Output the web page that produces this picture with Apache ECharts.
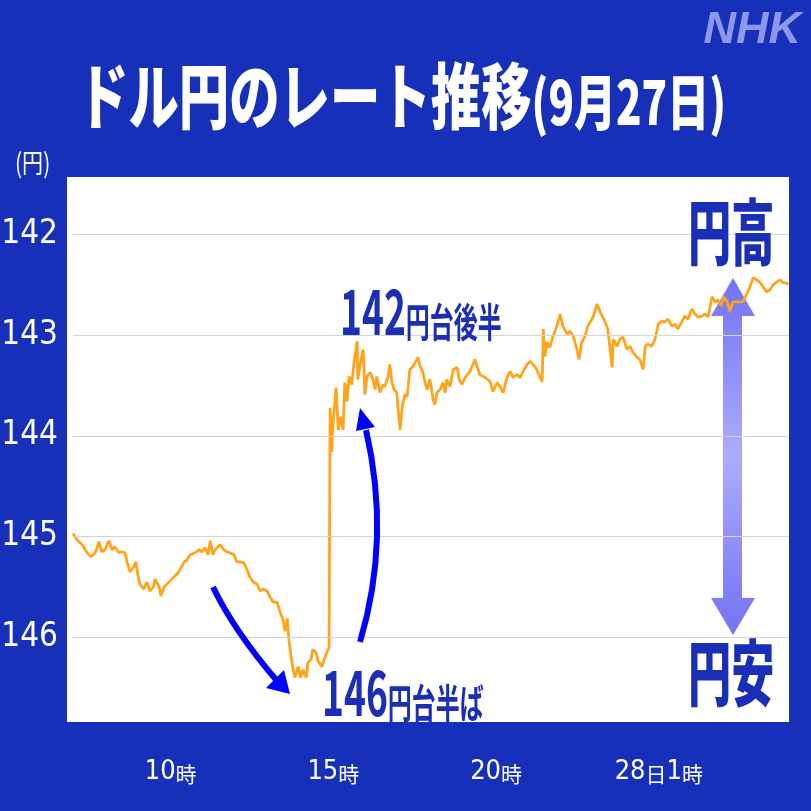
<!DOCTYPE html>
<html><head><meta charset="utf-8">
<script src="https://cdn.jsdelivr.net/npm/echarts@6/dist/echarts.min.js"></script>
<style>html,body{margin:0;padding:0;background:#1730b9}#c{width:811px;height:811px}</style>
</head><body><div id="c"></div>
<script>
// ---- data ----
const times = [
'27 07:00','27 07:07','27 07:17','27 07:26','27 07:33','27 07:41','27 07:48','27 07:53','27 07:59','27 08:06',
'27 08:12','27 08:17','27 08:25','27 08:30','27 08:36','27 08:40','27 08:45','27 08:52','27 08:56','27 09:00',
'27 09:03','27 09:11','27 09:16','27 09:22','27 09:29','27 09:31','27 09:39','27 09:42','27 09:48','27 09:53',
'27 09:59','27 10:06','27 10:12','27 10:17','27 10:25','27 10:30','27 10:36','27 10:45','27 10:52','27 10:58',
'27 11:03','27 11:09','27 11:13','27 11:18','27 11:22','27 11:31','27 11:38','27 11:44','27 11:49','27 11:57',
'27 12:02','27 12:08','27 12:15','27 12:21','27 12:26','27 12:32','27 12:39','27 12:45','27 12:50','27 12:58',
'27 13:03','27 13:09','27 13:16','27 13:22','27 13:27','27 13:31','27 13:35','27 13:38','27 13:42','27 13:46',
'27 13:49','27 13:55','27 14:00','27 14:04','27 14:10','27 14:13','27 14:19','27 14:22','27 14:28','27 14:32',
'27 14:39','27 14:43','27 14:48','27 14:52','27 14:54','27 14:57','27 14:59','27 15:05','27 15:09','27 15:14',
'27 15:18','27 15:21','27 15:25','27 15:29','27 15:34','27 15:38','27 15:44','27 15:45','27 15:51','27 15:55',
'27 15:58','27 16:02','27 16:08','27 16:13','27 16:17','27 16:20','27 16:26','27 16:32','27 16:35','27 16:41',
'27 16:44','27 16:48','27 16:52','27 16:57','27 16:59','27 17:03','27 17:07','27 17:12','27 17:16','27 17:21',
'27 17:27','27 17:31','27 17:36','27 17:40','27 17:45','27 17:49','27 17:53','27 17:58','27 18:04','27 18:07',
'27 18:11','27 18:17','27 18:22','27 18:26','27 18:29','27 18:35','27 18:41','27 18:48','27 18:52','27 18:57',
'27 19:03','27 19:12','27 19:21','27 19:25','27 19:30','27 19:40','27 19:49','27 19:54','27 20:02','27 20:07',
'27 20:13','27 20:20','27 20:26','27 20:31','27 20:39','27 20:44','27 20:50','27 20:57','27 21:03','27 21:08',
'27 21:15','27 21:21','27 21:25','27 21:27','27 21:30','27 21:34','27 21:39','27 21:45','27 21:52','27 21:58',
'27 22:03','27 22:11','27 22:16','27 22:22','27 22:29','27 22:33','27 22:38','27 22:44','27 22:49','27 22:57',
'27 23:02','27 23:06','27 23:12','27 23:21','27 23:26','27 23:34','27 23:36','27 23:43','27 23:48','27 23:54',
'28 00:01','28 00:07','28 00:12','28 00:20','28 00:25','28 00:31','28 00:35','28 00:40','28 00:47','28 00:53',
'28 00:59','28 01:06','28 01:11','28 01:17','28 01:24','28 01:30','28 01:35','28 01:43','28 01:48','28 01:54',
'28 02:01','28 02:07','28 02:12','28 02:20','28 02:25','28 02:31','28 02:38','28 02:44','28 02:49','28 02:55',
'28 03:00','28 03:06','28 03:11','28 03:17','28 03:24','28 03:30','28 03:35','28 03:43','28 03:48','28 03:54',
'28 04:01','28 04:07','28 04:12','28 04:19','28 04:25','28 04:31','28 04:38','28 04:43','28 04:49','28 04:56','28 04:58'
];
const rates = [
144.97,145.03,145.08,145.16,145.20,145.16,145.05,145.15,145.13,145.04,
145.13,145.10,145.16,145.15,145.16,145.26,145.35,145.30,145.25,145.39,
145.47,145.52,145.45,145.54,145.49,145.42,145.50,145.59,145.50,145.47,
145.44,145.40,145.37,145.33,145.25,145.23,145.18,145.16,145.13,145.15,
145.11,145.18,145.04,145.18,145.13,145.08,145.13,145.15,145.16,145.18,
145.25,145.25,145.26,145.33,145.40,145.45,145.47,145.54,145.52,145.54,
145.60,145.65,145.65,145.75,145.82,145.94,145.81,146.02,146.19,146.32,
146.40,146.29,146.40,146.32,146.40,146.25,146.22,146.12,146.15,146.24,
146.29,146.22,146.15,146.10,143.72,144.16,143.91,143.52,143.94,143.81,
143.94,143.47,143.66,143.41,143.49,143.27,143.06,143.44,143.24,143.14,
143.59,143.41,143.37,143.44,143.54,143.41,143.57,143.49,143.51,143.41,
143.29,143.47,143.54,143.57,143.71,143.94,143.71,143.59,143.61,143.34,
143.31,143.27,143.22,143.31,143.37,143.47,143.54,143.44,143.64,143.69,
143.57,143.54,143.47,143.57,143.44,143.51,143.34,143.32,143.44,143.49,
143.42,143.36,143.24,143.31,143.39,143.42,143.46,143.56,143.47,143.51,
143.57,143.42,143.36,143.42,143.39,143.42,143.36,143.29,143.26,143.29,
143.34,143.42,143.46,142.94,143.21,143.07,143.12,143.01,142.91,142.79,
142.91,142.99,142.96,143.01,143.14,143.24,143.07,143.01,142.91,142.84,
142.77,142.69,142.77,142.87,142.94,143.32,143.04,143.11,143.04,143.02,
143.14,143.11,143.17,143.22,143.24,143.34,143.11,143.09,143.11,143.04,
142.89,142.86,142.87,142.84,142.91,142.89,142.94,142.86,142.81,142.84,
142.74,142.79,142.82,142.81,142.79,142.82,142.62,142.67,142.65,142.71,
142.62,142.67,142.76,142.67,142.67,142.67,142.67,142.58,142.52,142.43,
142.45,142.48,142.52,142.57,142.55,142.50,142.47,142.45,142.48,142.48,142.50
];
const yTicks = [142, 143, 144, 145, 146];
const xTicks = ['27 10:00', '27 15:00', '27 20:00', '28 01:00'];
const xTickLabels = ['10時', '15時', '20時', '28日1時'];
const xRange = ['27 07:00', '28 05:00'];
const yRange = [141.43, 146.84];

// ---- helpers ----
// hours elapsed since 00:00 on the 27th
function toHours(s) {
  const [d, hm] = s.split(' ');
  const [h, m] = hm.split(':').map(Number);
  return (+d - 27) * 24 + h + m / 60;
}
const BG = '#1730b9';
const INK = '#1a2fb6';
const CJK = "'Noto Sans CJK JP', 'Noto Sans', sans-serif";
const NARROW = "'Liberation Sans Narrow', 'DejaVu Sans Condensed', sans-serif";
const xTickHours = xTicks.map(toHours);

const chart = echarts.init(document.getElementById('c'), null, { renderer: 'canvas' });

const option = {
  animation: false,
  backgroundColor: BG,
  grid: { left: 73, right: 22, top: 177, bottom: 89, containLabel: false, outerBoundsMode: 'none' },
  xAxis: {
    type: 'value',
    min: toHours(xRange[0]),
    max: toHours(xRange[1]),
    axisLine: { show: false },
    axisTick: { show: false },
    splitLine: { show: false },
    axisLabel: {
      customValues: xTickHours,
      margin: 33,
      hideOverlap: false,
      formatter: function (v) {
        let i = -1;
        xTickHours.forEach((t, k) => { if (Math.abs(t - v) < 1e-6) i = k; });
        const lab = i >= 0 ? xTickLabels[i] : '';
        return (lab.match(/\d+|\D+/g) || []).map(t => /\d/.test(t) ? '{n|' + t + '}' : '{k|' + t + '}').join('');
      },
      rich: {
        n: { color: '#fff', fontFamily: NARROW, fontSize: 27, verticalAlign: 'bottom', lineHeight: 30 },
        k: { color: '#fff', fontFamily: CJK, fontSize: 21, verticalAlign: 'bottom', lineHeight: 30 }
      }
    }
  },
  yAxis: {
    type: 'value',
    inverse: true,
    min: yRange[0],
    max: yRange[1],
    axisLine: { show: false },
    axisTick: { show: false },
    splitLine: { show: false },
    axisLabel: {
      customValues: yTicks,
      color: '#fff',
      fontFamily: NARROW,
      fontSize: 33,
      margin: 15,
      formatter: v => String(v)
    }
  },
  series: [{
    type: 'line',
    z: 3,
    showSymbol: false,
    symbol: 'none',
    lineStyle: { color: '#ffa41b', width: 2.8 },
    data: times.map((t, i) => [toHours(t), rates[i]]),
    markLine: {
      silent: true,
      symbol: 'none',
      label: { show: false },
      lineStyle: { color: '#d4d4d4', width: 1, type: 'solid' },
      data: yTicks.map(v => ({ yAxis: v }))
    }
  }],
  graphic: [
    { type: 'rect', z: -10, shape: { x: 67, y: 177, width: 722, height: 545 }, style: { fill: '#ffffff' } },
    { type: 'text', z: 10, x: 78, y: 94, scaleX: 0.70,
      style: { text: '{a|ドル円のレート推移}{b|(9月27日)}', verticalAlign: 'middle',
        rich: {
          a: { fontSize: 72, fontWeight: 900, fontFamily: CJK, fill: '#fff', lineHeight: 76, verticalAlign: 'bottom' },
          b: { fontSize: 60, fontWeight: 900, fontFamily: CJK, fill: '#fff', lineHeight: 76, verticalAlign: 'bottom' }
        } } },
    { type: 'text', z: 10, x: 801, y: 31,
      style: { text: 'NHK', align: 'right', verticalAlign: 'middle', fill: '#8e97ea',
        font: 'italic bold 45px "Liberation Sans", sans-serif' } },
    { type: 'text', z: 10, x: 15, y: 163, scaleX: 0.78,
      style: { text: '(円)', verticalAlign: 'middle', fill: '#fff', fontSize: 27, fontFamily: CJK } },
    { type: 'polygon', z: -5,
      shape: { points: [[733, 278], [755, 316], [742, 316], [742, 598], [755, 598], [733, 635], [711, 598], [723, 598], [723, 316], [711, 316]] },
      style: { fill: { type: 'linear', x: 0, y: 0, x2: 0, y2: 1, colorStops: [
        { offset: 0, color: '#7373f3' }, { offset: 0.5, color: '#acacfd' }, { offset: 1, color: '#7373f3' }] } } },
    { type: 'text', z: 10, x: 688, y: 232, scaleX: 0.6,
      style: { text: '円高', verticalAlign: 'middle', fill: INK, fontSize: 72, fontWeight: 900, fontFamily: CJK } },
    { type: 'text', z: 10, x: 688, y: 673, scaleX: 0.6,
      style: { text: '円安', verticalAlign: 'middle', fill: INK, fontSize: 72, fontWeight: 900, fontFamily: CJK } },
    { type: 'bezierCurve', z: 10,
      shape: { x1: 213, y1: 587, cpx1: 234, cpy1: 631, x2: 278, y2: 682 },
      style: { stroke: '#0000ff', lineWidth: 6, fill: null } },
    { type: 'polygon', z: 10, shape: { points: [[290, 694], [266, 688], [284, 670]] }, style: { fill: '#0000ff' } },
    { type: 'bezierCurve', z: 10,
      shape: { x1: 360, y1: 642, cpx1: 391, cpy1: 538, x2: 366, y2: 430 },
      style: { stroke: '#0000ff', lineWidth: 6, fill: null } },
    { type: 'polygon', z: 10, shape: { points: [[360, 408], [356, 431], [375, 427]] }, style: { fill: '#0000ff' } },
    { type: 'text', z: 10, x: 340, y: 311, scaleX: 0.6,
      style: { text: '{d|142}{k|円台後半}', verticalAlign: 'middle',
        rich: {
          d: { fontSize: 62, fontWeight: 'bold', fontFamily: CJK, fill: INK, lineHeight: 62, verticalAlign: 'bottom' },
          k: { fontSize: 40, fontWeight: 'bold', fontFamily: CJK, fill: INK, lineHeight: 62, verticalAlign: 'bottom' }
        } } },
    { type: 'text', z: 10, x: 322, y: 692, scaleX: 0.6,
      style: { text: '{d|146}{k|円台半ば}', verticalAlign: 'middle',
        rich: {
          d: { fontSize: 62, fontWeight: 'bold', fontFamily: CJK, fill: INK, lineHeight: 62, verticalAlign: 'bottom' },
          k: { fontSize: 40, fontWeight: 'bold', fontFamily: CJK, fill: INK, lineHeight: 62, verticalAlign: 'bottom' }
        } } }
  ]
};
chart.setOption(option);
</script>
</body></html>
